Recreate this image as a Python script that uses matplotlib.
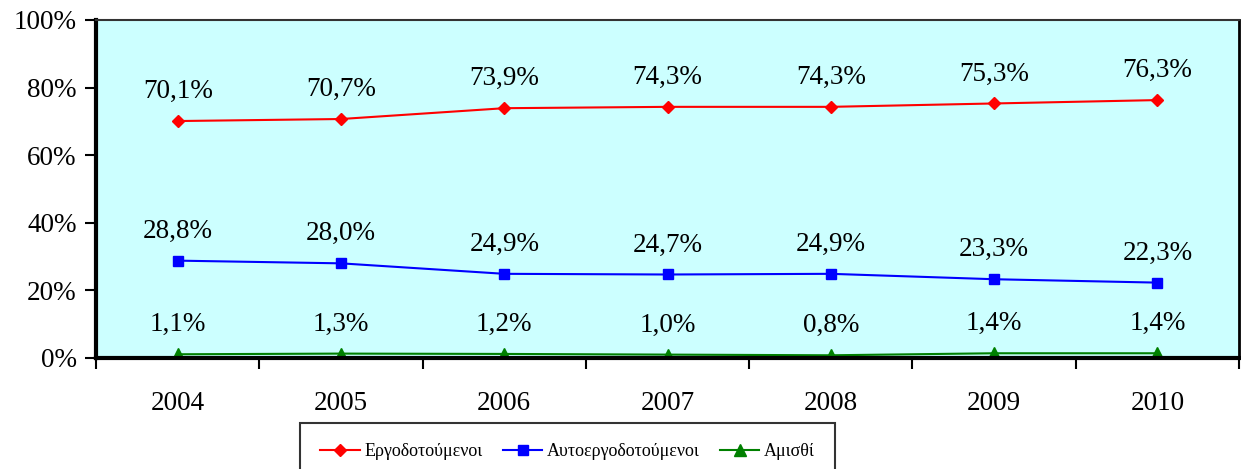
import numpy as np
import matplotlib
matplotlib.use('Agg')
import matplotlib.pyplot as plt
from matplotlib.ticker import FuncFormatter

plt.rcParams['font.family'] = ['Liberation Serif', 'DejaVu Serif']

years = ['2004', '2005', '2006', '2007', '2008', '2009', '2010']
ergodotoumenoi = [70.1, 70.7, 73.9, 74.3, 74.3, 75.3, 76.3]
autoergodotoumenoi = [28.8, 28.0, 24.9, 24.7, 24.9, 23.3, 22.3]
amisthi = [1.1, 1.3, 1.2, 1.0, 0.8, 1.4, 1.4]

series = [
    ('Εργοδοτούμενοι', ergodotoumenoi, '#FF0000', 'D', 6),
    ('Αυτοεργοδοτούμενοι', autoergodotoumenoi, '#0000FF', 's', 7),
    ('Αμισθί', amisthi, '#008000', '^', 8),
]

fig = plt.figure(figsize=(12.41, 4.69), dpi=100)
ax = fig.add_axes([0.0774, 0.2367, 0.921, 0.7207])
ax.set_facecolor('#CCFFFF')

x = np.arange(len(years))
for name, vals, col, mk, ms in series:
    ax.plot(x, vals, color=col, marker=mk, markersize=ms, linewidth=1.5, label=name)
    for xi, v in zip(x, vals):
        ax.annotate(('%.1f%%' % v).replace('.', ','), (xi, v), xytext=(0, 17),
                    textcoords='offset pixels', ha='center', va='bottom', fontsize=19.5)

ax.set_xlim(-0.5, len(years) - 0.5)
ax.set_ylim(0, 100)
ax.set_yticks(np.arange(0, 101, 20))
ax.yaxis.set_major_formatter(FuncFormatter(lambda v, p: '%d%%' % v))
ax.set_xticks(x)
ax.set_xticklabels(years)
ax.set_xticks(np.arange(-0.5, len(years), 1), minor=True)
ax.tick_params(axis='x', which='major', length=0, pad=24, labelsize=19.5)
ax.tick_params(axis='x', which='minor', length=8, width=1.5, direction='out')
ax.tick_params(axis='y', length=8, width=1.5, direction='out', pad=6, labelsize=19.5)

ax.spines['left'].set_linewidth(3)
ax.spines['bottom'].set_linewidth(3)
ax.spines['top'].set_linewidth(1.5)
ax.spines['top'].set_color('#333333')
ax.spines['right'].set_linewidth(2)

leg = fig.legend(loc='upper center', bbox_to_anchor=(0.4573, 1 - 423 / 469), ncol=3,
                 fontsize=13, frameon=True, fancybox=False, edgecolor='black',
                 borderpad=1.1, borderaxespad=0, handlelength=2.2, columnspacing=1.1,
                 handletextpad=0.25)
leg.get_frame().set_linewidth(1.5)

fig.savefig('out.png', dpi=100)
